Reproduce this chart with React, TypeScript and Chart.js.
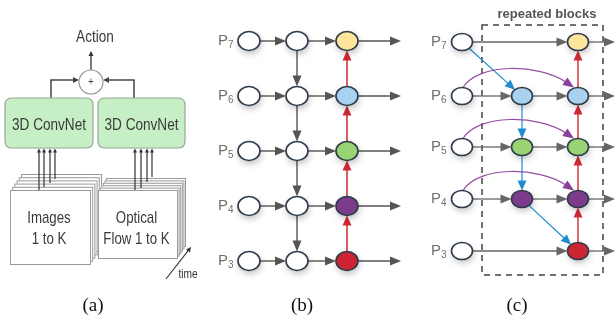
import React, { useEffect, useRef } from "react";
import { Chart, registerables } from "chart.js";
Chart.register(...registerables);

const W = 616;
const H = 325;

// ---- Panel (a) ----
const actionLabel = "Action";
const convNetLabels = ["3D ConvNet", "3D ConvNet"];
const stackLabels = [["Images", "1 to K"], ["Optical", "Flow 1 to K"]];
const timeLabel = "time";
const panelLabels = ["(a)", "(b)", "(c)"];
const panelLabelX = [93, 302, 517];

// ---- Pyramid levels ----
const levelNames = ["7", "6", "5", "4", "3"];
const levelColors = ["#fde69c", "#a8d2ef", "#99d474", "#7d3b8b", "#cc2433"];

// ---- Panel (b) grid ----
const bRowY = [41, 96, 151, 206, 261];
const bColX = [249, 297, 347];
const bEndX = 401;

// ---- Panel (c) grid ----
const cRowY = [42, 96, 147, 199, 251];
const cColX = [462, 522, 578];
const cEndX = 615;
const cMidRows = [1, 2, 3];
const repeatedLabel = "repeated blocks";

type Node = { key: string; x: number; y: number; fill: string };

const bNodes: Node[] = [];
bRowY.forEach((y, r) =>
  bColX.forEach((x, c) =>
    bNodes.push({ key: `b${r}${c}`, x, y, fill: c === 2 ? levelColors[r] : "#ffffff" })
  )
);
const cNodes: Node[] = [];
cRowY.forEach((y, r) => {
  cNodes.push({ key: `c${r}0`, x: cColX[0], y, fill: "#ffffff" });
  if (cMidRows.includes(r)) cNodes.push({ key: `c${r}1`, x: cColX[1], y, fill: levelColors[r] });
  cNodes.push({ key: `c${r}2`, x: cColX[2], y, fill: levelColors[r] });
});

// edges: [from, to]
const bGrayEdges: [string, string][] = [];
const bRedEdges: [string, string][] = [];
bRowY.forEach((_, r) => {
  bGrayEdges.push([`b${r}0`, `b${r}1`], [`b${r}1`, `b${r}2`]);
  if (r < 4) {
    bGrayEdges.push([`b${r}1`, `b${r + 1}1`]);
    bRedEdges.push([`b${r + 1}2`, `b${r}2`]);
  }
});
const cGrayEdges: [string, string][] = [
  ["c00", "c02"],
  ["c10", "c11"], ["c11", "c12"],
  ["c20", "c21"], ["c21", "c22"],
  ["c30", "c31"], ["c31", "c32"],
  ["c40", "c42"],
];
const cBlueEdges: [string, string][] = [["c00", "c11"], ["c11", "c21"], ["c21", "c31"], ["c31", "c42"]];
const cRedEdges: [string, string][] = [["c42", "c32"], ["c32", "c22"], ["c22", "c12"], ["c12", "c02"]];
const cPurpleEdges: [string, string][] = [["c10", "c12"], ["c20", "c22"], ["c30", "c32"]];

function arrowHead(ctx: CanvasRenderingContext2D, tx: number, ty: number, ang: number, len: number, hw: number, color: string) {
  const c = Math.cos(ang), s = Math.sin(ang);
  const bx = tx - len * c, by = ty - len * s;
  ctx.beginPath();
  ctx.moveTo(tx, ty);
  ctx.lineTo(bx - hw * s, by + hw * c);
  ctx.lineTo(bx + hw * s, by - hw * c);
  ctx.closePath();
  ctx.fillStyle = color;
  ctx.fill();
}

function arrow(ctx: CanvasRenderingContext2D, x1: number, y1: number, x2: number, y2: number, color: string, lw: number, len: number, hw: number) {
  const ang = Math.atan2(y2 - y1, x2 - x1);
  ctx.beginPath();
  ctx.moveTo(x1, y1);
  ctx.lineTo(x2 - (len - 1) * Math.cos(ang), y2 - (len - 1) * Math.sin(ang));
  ctx.strokeStyle = color;
  ctx.lineWidth = lw;
  ctx.stroke();
  arrowHead(ctx, x2, y2, ang, len, hw, color);
}

function condText(ctx: CanvasRenderingContext2D, text: string, x: number, y: number, size: number, sx: number, color: string) {
  ctx.save();
  ctx.translate(x, y);
  ctx.scale(sx, 1);
  ctx.font = `${size}px "Liberation Sans", Arial, sans-serif`;
  ctx.textAlign = "center";
  ctx.textBaseline = "middle";
  ctx.fillStyle = color;
  ctx.fillText(text, 0, 0);
  ctx.restore();
}

function roundRect(ctx: CanvasRenderingContext2D, x: number, y: number, w: number, h: number, r: number) {
  ctx.beginPath();
  ctx.moveTo(x + r, y);
  ctx.lineTo(x + w - r, y);
  ctx.quadraticCurveTo(x + w, y, x + w, y + r);
  ctx.lineTo(x + w, y + h - r);
  ctx.quadraticCurveTo(x + w, y + h, x + w - r, y + h);
  ctx.lineTo(x + r, y + h);
  ctx.quadraticCurveTo(x, y + h, x, y + h - r);
  ctx.lineTo(x, y + r);
  ctx.quadraticCurveTo(x, y, x + r, y);
  ctx.closePath();
}

const diagramPlugin = {
  id: "diagram",
  afterDatasetsDraw(chart: any) {
    const ctx: CanvasRenderingContext2D = chart.ctx;
    const xs = chart.scales.x, ys = chart.scales.y;
    const px = (v: number) => xs.getPixelForValue(v);
    const py = (v: number) => ys.getPixelForValue(v);

    const pos: Record<string, { x: number; y: number; rx: number; ry: number; fill: string }> = {};
    const metaB = chart.getDatasetMeta(0);
    bNodes.forEach((n, i) => {
      pos[n.key] = { x: metaB.data[i].x, y: metaB.data[i].y, rx: 11, ry: 9.5, fill: n.fill };
    });
    const metaC = chart.getDatasetMeta(1);
    cNodes.forEach((n, i) => {
      pos[n.key] = { x: metaC.data[i].x, y: metaC.data[i].y, rx: 10.5, ry: 8.5, fill: n.fill };
    });

    const edgePts = (a: string, b: string) => {
      const A = pos[a], B = pos[b];
      const dx = B.x - A.x, dy = B.y - A.y;
      const d = Math.hypot(dx, dy);
      const ux = dx / d, uy = dy / d;
      const ta = 1 / Math.hypot(ux / A.rx, uy / A.ry);
      const tb = 1 / Math.hypot(ux / B.rx, uy / B.ry);
      return [A.x + ux * ta, A.y + uy * ta, B.x - ux * tb, B.y - uy * tb];
    };

    ctx.save();
    ctx.lineCap = "butt";

    // ================= Panel (a) =================
    condText(ctx, actionLabel, px(95), py(37), 17, 0.8, "#3a3a3a");
    arrow(ctx, px(91), py(70), px(91), py(51), "#333", 1.3, 5, 2.5);
    ctx.strokeStyle = "#444";
    ctx.lineWidth = 1.5;
    ctx.beginPath();
    ctx.moveTo(px(51), py(98));
    ctx.lineTo(px(51), py(80));
    ctx.stroke();
    arrow(ctx, px(50.3), py(80), px(79), py(80), "#444", 1.5, 6, 3);
    ctx.beginPath();
    ctx.moveTo(px(134), py(98));
    ctx.lineTo(px(134), py(80));
    ctx.stroke();
    arrow(ctx, px(134.7), py(80), px(103), py(80), "#444", 1.5, 6, 3);
    ctx.beginPath();
    ctx.arc(px(91), py(82), 12, 0, Math.PI * 2);
    ctx.fillStyle = "#fff";
    ctx.fill();
    ctx.strokeStyle = "#999";
    ctx.lineWidth = 1.2;
    ctx.stroke();
    condText(ctx, "+", px(91), py(82), 10, 1, "#444");

    const boxes = [[5, 98, 88, 50], [98, 98, 87, 50]];
    boxes.forEach((b, i) => {
      roundRect(ctx, px(b[0]), py(b[1]), b[2], b[3], 7);
      ctx.fillStyle = "#c7efc5";
      ctx.fill();
      ctx.strokeStyle = "#95a895";
      ctx.lineWidth = 1.2;
      ctx.stroke();
      condText(ctx, convNetLabels[i], px(b[0] + b[2] / 2), py(125), 17, 0.8, "#3a3a3a");
    });

    const stacks = [
      { x: 10, y: 190, w: 80, h: 74, dx: 2.2, dy: -3.2, n: 6 },
      { x: 98, y: 190, w: 79, h: 68, dx: 1.6, dy: -2.4, n: 6 },
    ];
    stacks.forEach((s, i) => {
      for (let k = s.n - 1; k >= 0; k--) {
        ctx.fillStyle = "#fff";
        ctx.fillRect(px(s.x + k * s.dx), py(s.y + k * s.dy), s.w, s.h);
        ctx.strokeStyle = "#9a9a9a";
        ctx.lineWidth = 1;
        ctx.strokeRect(px(s.x + k * s.dx) + 0.5, py(s.y + k * s.dy) + 0.5, s.w, s.h);
      }
      condText(ctx, stackLabels[i][0], px(s.x + s.w / 2 - 1), py(218), 17, 0.78, "#3a3a3a");
      condText(ctx, stackLabels[i][1], px(s.x + s.w / 2 - 1), py(239), 17, 0.78, "#3a3a3a");
    });
    const inL = [[39, 190], [44, 187], [50, 183], [55, 179]];
    const inR = [[135, 190], [141, 188], [147, 182], [152, 177]];
    [...inL, ...inR].forEach(([x, y0]) => {
      arrow(ctx, px(x), py(y0), px(x), py(148.5), "#333", 1.2, 4, 2);
    });
    arrow(ctx, px(166), py(279), px(191), py(247), "#333", 1.1, 5, 2.5);
    condText(ctx, timeLabel, px(188), py(274), 13, 0.78, "#333");

    // ================= Panel (b) =================
    bGrayEdges.forEach(([a, b]) => {
      const [x1, y1, x2, y2] = edgePts(a, b);
      arrow(ctx, x1, y1, x2, y2, "#555", 1.4, 11, 4.5);
    });
    bRowY.forEach((_, r) => {
      const A = pos[`b${r}2`];
      arrow(ctx, A.x + A.rx, A.y, px(bEndX), A.y, "#555", 1.4, 11, 4.5);
    });
    bRedEdges.forEach(([a, b]) => {
      const [x1, y1, x2, y2] = edgePts(a, b);
      arrow(ctx, x1, y1, x2, y2, "#d12a36", 1.5, 10, 4.5);
    });

    // ================= Panel (c) =================
    ctx.save();
    ctx.setLineDash([6, 5]);
    ctx.strokeStyle = "#444";
    ctx.lineWidth = 1.5;
    ctx.strokeRect(px(482), py(25), px(603) - px(482), py(275) - py(25));
    ctx.restore();
    ctx.save();
    ctx.font = 'bold 13px "Liberation Sans", Arial, sans-serif';
    ctx.fillStyle = "#555";
    ctx.textAlign = "center";
    ctx.textBaseline = "middle";
    ctx.fillText(repeatedLabel, px(547), py(14));
    ctx.restore();

    cGrayEdges.forEach(([a, b]) => {
      const [x1, y1, x2, y2] = edgePts(a, b);
      arrow(ctx, x1, y1, x2, y2, "#666", 1.3, 11, 4.5);
    });
    cRowY.forEach((_, r) => {
      const A = pos[`c${r}2`];
      arrow(ctx, A.x + A.rx, A.y, px(cEndX), A.y, "#666", 1.3, 11, 4.5);
    });
    cBlueEdges.forEach(([a, b]) => {
      const [x1, y1, x2, y2] = edgePts(a, b);
      arrow(ctx, x1, y1, x2, y2, "#1f8ccf", 1.2, 10, 4.5);
    });
    cRedEdges.forEach(([a, b]) => {
      const [x1, y1, x2, y2] = edgePts(a, b);
      arrow(ctx, x1, y1, x2, y2, "#d12a36", 1.4, 10, 4.5);
    });
    cPurpleEdges.forEach(([a, b]) => {
      const A = pos[a], B = pos[b];
      const sx = A.x + 1, sy = A.y - A.ry;
      const ex = B.x - 4, ey = B.y - B.ry;
      const c1x = A.x + 16, c1y = A.y - 33, c2x = B.x - 40, c2y = B.y - 33;
      const ang = Math.atan2(ey - c2y, ex - c2x);
      ctx.beginPath();
      ctx.moveTo(sx, sy);
      ctx.bezierCurveTo(c1x, c1y, c2x, c2y, ex - 9 * Math.cos(ang), ey - 9 * Math.sin(ang));
      ctx.strokeStyle = "#9450a3";
      ctx.lineWidth = 1.2;
      ctx.stroke();
      arrowHead(ctx, ex, ey, ang, 11, 4.5, "#8a3f99");
    });

    Object.values(pos).forEach((n) => {
      ctx.save();
      ctx.shadowColor = "rgba(0,0,0,0.28)";
      ctx.shadowBlur = 7;
      ctx.shadowOffsetX = 1;
      ctx.shadowOffsetY = 3;
      ctx.beginPath();
      ctx.ellipse(n.x, n.y, n.rx, n.ry, 0, 0, Math.PI * 2);
      ctx.fillStyle = n.fill;
      ctx.fill();
      ctx.restore();
      ctx.beginPath();
      ctx.ellipse(n.x, n.y, n.rx, n.ry, 0, 0, Math.PI * 2);
      ctx.strokeStyle = "#2e3b4a";
      ctx.lineWidth = 1.6;
      ctx.stroke();
    });

    const pLabel = (x: number, y: number, sub: string) => {
      ctx.save();
      ctx.fillStyle = "#707070";
      ctx.textBaseline = "middle";
      ctx.textAlign = "left";
      ctx.font = '15px "Liberation Sans", Arial, sans-serif';
      ctx.fillText("P", x, y);
      const w = ctx.measureText("P").width;
      ctx.font = '10px "Liberation Sans", Arial, sans-serif';
      ctx.fillText(sub, x + w, y + 4);
      ctx.restore();
    };
    bRowY.forEach((y, r) => pLabel(px(218), py(y), levelNames[r]));
    cRowY.forEach((y, r) => pLabel(px(431), py(y), levelNames[r]));

    ctx.font = '19px "Liberation Serif", "Times New Roman", serif';
    ctx.fillStyle = "#111";
    ctx.textAlign = "center";
    ctx.textBaseline = "middle";
    panelLabels.forEach((t, i) => ctx.fillText(t, px(panelLabelX[i]), py(306)));

    ctx.restore();
  },
};

export default function App() {
  const ref = useRef<HTMLCanvasElement | null>(null);
  useEffect(() => {
    document.body.style.margin = "0";
    document.body.style.background = "#fff";
    const canvas = ref.current;
    if (!canvas) return;
    const chart = new Chart(canvas, {
      type: "scatter",
      data: {
        datasets: [
          { label: "b", data: bNodes.map((n) => ({ x: n.x, y: n.y })), pointRadius: 0, pointHoverRadius: 0 },
          { label: "c", data: cNodes.map((n) => ({ x: n.x, y: n.y })), pointRadius: 0, pointHoverRadius: 0 },
        ],
      },
      options: {
        responsive: false,
        animation: false,
        events: [],
        layout: { padding: 0 },
        plugins: { legend: { display: false }, tooltip: { enabled: false } },
        scales: {
          x: { type: "linear", min: 0, max: W, display: false },
          y: { type: "linear", min: 0, max: H, reverse: true, display: false },
        },
      },
      plugins: [diagramPlugin],
    });
    return () => chart.destroy();
  }, []);
  return (
    <div style={{ width: W, height: H, background: "#fff" }}>
      <canvas ref={ref} width={W} height={H} style={{ display: "block" }} />
    </div>
  );
}
